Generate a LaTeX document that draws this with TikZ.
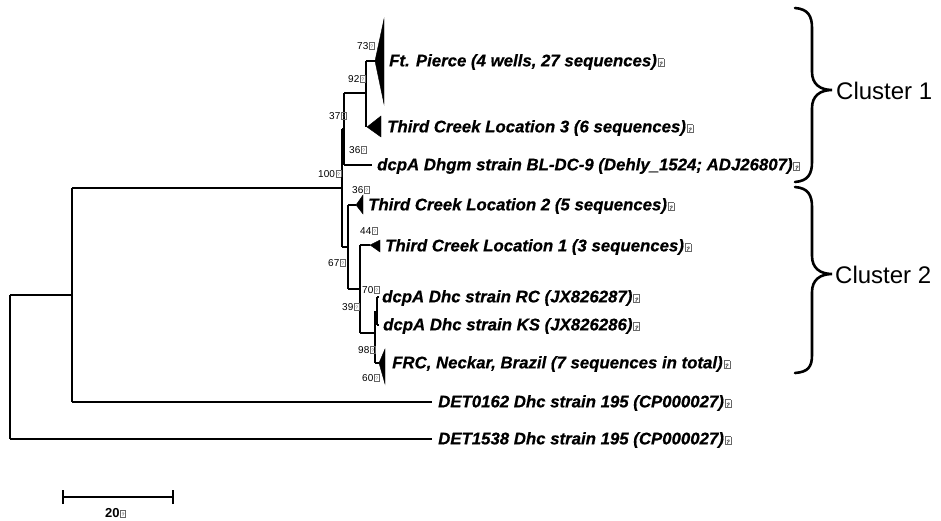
\documentclass[tikz,border=0pt]{standalone}
\usepackage{fontspec}
\setmainfont{Liberation Sans}[BoldItalicFeatures={FakeBold=0.6}]
\newcommand\qbox[3]{\hspace{0.8pt}{\color{black!60}\fboxsep=0pt\fboxrule=0.5pt\fbox{\makebox[#1][c]{\rule{0pt}{#2}\raisebox{0.6pt}{\fontsize{#3}{#3}\selectfont ?}}}}}
\newcommand\leafq{\qbox{5.5pt}{7.5pt}{6}}
\newcommand\bootq{\qbox{4.5pt}{6.5pt}{5}}
\tikzset{
  br/.style={line width=1.5pt},
  leaf/.style={anchor=west, inner sep=0pt, font=\fontsize{16.8}{18}\selectfont\bfseries\itshape},
  bs/.style={anchor=west, inner sep=0pt, font=\fontsize{10}{11}\selectfont},
  clade/.style={fill=black, draw=black, line width=0.4pt, line join=miter},
  bracestyle/.style={line width=2.6pt, line cap=round},
  clus/.style={anchor=west, inner sep=0pt, font=\fontsize{24}{28}\selectfont}
}
\begin{document}
\begin{tikzpicture}[x=1pt,y=-1pt]
\useasboundingbox (0,0) rectangle (941,521);
% internal node coordinates
\coordinate (r1) at (10,295);
\coordinate (r2) at (10,439);
\coordinate (a1) at (72,188);
\coordinate (a2) at (72,402);
\coordinate (b1) at (342,129);
\coordinate (b2) at (342,247);
\coordinate (c1) at (344,93);
\coordinate (c2) at (344,165);
\coordinate (d1) at (366,61);
\coordinate (d2) at (366,127);
\coordinate (e1) at (348,205);
\coordinate (e2) at (348,289);
\coordinate (f1) at (360,245);
\coordinate (f2) at (360,333);
\coordinate (g1) at (375,311);
\coordinate (g2) at (375,363);
\coordinate (h1) at (377,297);
\coordinate (h2) at (377,325);
% leaf ends
\coordinate (lFP) at (375,61);
\coordinate (lT3) at (367,127);
\coordinate (lDh) at (372,165);
\coordinate (lT2) at (356,205);
\coordinate (lT1) at (370,245);
\coordinate (lRC) at (379,297);
\coordinate (lKS) at (379,325);
\coordinate (lFR) at (379,363);
\coordinate (l62) at (432,402);
\coordinate (l38) at (432,439);

% verticals
\draw[br] (r1) -- (r2);
\draw[br] (a1) -- (a2);
\draw[br] (b1) -- (b2);
\draw[br] (c1) -- (c2);
\draw[br] (d1) -- (d2);
\draw[br] (e1) -- (e2);
\draw[br] (f1) -- (f2);
\draw[br] (g1) -- (g2);
\draw[br] (h1) -- (h2);
% horizontals
\draw[br] (r1) -- (a1 |- r1);
\draw[br] (r2) -- (l38);
\draw[br] (a1) -- (b1 |- a1);
\draw[br] (a2) -- (l62);
\draw[br] (b1) -- (c1 |- b1);
\draw[br] (b2) -- (e1 |- b2);
\draw[br] (c1) -- (d1 |- c1);
\draw[br] (c2) -- (lDh);
\draw[br] (d1) -- (lFP);
\draw[br] (e1) -- (lT2);
\draw[br] (e2) -- (f1 |- e2);
\draw[br] (f1) -- (lT1);
\draw[br] (f2) -- (g1 |- f2);
\draw[br] (g2) -- (lFR);
\draw[br] (h1) -- (lRC);
\draw[br] (h2) -- (lKS);

% collapsed clades
\fill[clade] (lFP) -- (384,19) -- (384,104) -- cycle;
\fill[clade] (lT3) -- (381,116) -- (381,137) -- cycle;
\fill[clade] (lT2) -- (363,195) -- (363,214) -- cycle;
\fill[clade] (lT1) -- (380,240) -- (380,252) -- cycle;
\fill[clade] (lFR) -- (385,349) -- (385,384) -- cycle;

% leaf labels
\node[leaf] (tFP) at (389,62) {Ft. Pierce (4 wells, 27 sequences)\leafq};
\node[leaf] (tT3) at (387,128) {Third Creek Location 3 (6 sequences)\leafq};
\node[leaf] (tDh) at (377,166) {dcpA Dhgm strain BL-DC-9 (Dehly\_1524; ADJ26807)\leafq};
\node[leaf] (tT2) at (368,206) {Third Creek Location 2 (5 sequences)\leafq};
\node[leaf] (tT1) at (385,247) {Third Creek Location 1 (3 sequences)\leafq};
\node[leaf] (tRC) at (382,298) {dcpA Dhc strain RC (JX826287)\leafq};
\node[leaf] (tKS) at (383,326) {dcpA Dhc strain KS (JX826286)\leafq};
\node[leaf] (tFR) at (392,364) {FRC, Neckar, Brazil (7 sequences in total)\leafq};
\node[leaf] (t62) at (438,403) {DET0162 Dhc strain 195 (CP000027)\leafq};
\node[leaf] (t38) at (438,440) {DET1538 Dhc strain 195 (CP000027)\leafq};

% bootstrap values
\node[bs] (s73) at (357,46) {73\bootq};
\node[bs] (s92) at (348,79) {92\bootq};
\node[bs] (s37) at (329,116) {37\bootq};
\node[bs] (s36a) at (349,150) {36\bootq};
\node[bs] (s100) at (318,174) {100\bootq};
\node[bs] (s36b) at (352,190) {36\bootq};
\node[bs] (s44) at (360,231) {44\bootq};
\node[bs] (s67) at (328,263) {67\bootq};
\node[bs] (s70) at (362,290) {70\bootq};
\node[bs] (s39) at (342,307) {39\bootq};
\node[bs] (s98) at (358,350) {98\bootq};
\node[bs] (s60) at (362,378) {60\bootq};

% braces
\draw[bracestyle] (795,8) .. controls (808,9) and (812,16) .. (812,28) -- (812,72)
  .. controls (812,84) and (820,90) .. (832,90)
  .. controls (820,90) and (812,96) .. (812,108) -- (812,162)
  .. controls (812,174) and (808,181) .. (795,182);
\draw[bracestyle] (795,187) .. controls (808,188) and (812,195) .. (812,207) -- (812,256)
  .. controls (812,268) and (820,274) .. (832,274)
  .. controls (820,274) and (812,280) .. (812,292) -- (812,355)
  .. controls (812,367) and (808,372) .. (795,373);
\node[clus] (k1) at (836,91) {Cluster 1};
\node[clus] (k2) at (835,275) {Cluster 2};

% scale bar
\coordinate (sb1) at (63,497);
\coordinate (sb2) at (173,497);
\draw[br] (sb1) -- (sb2);
\draw[br] ([yshift=-7pt]sb1) -- ([yshift=7pt]sb1);
\draw[br] ([yshift=-7pt]sb2) -- ([yshift=7pt]sb2);
\node[anchor=west, inner sep=0pt, font=\fontsize{13}{14}\selectfont\bfseries] (sl) at (105,513) {20\bootq};
\end{tikzpicture}
\end{document}
